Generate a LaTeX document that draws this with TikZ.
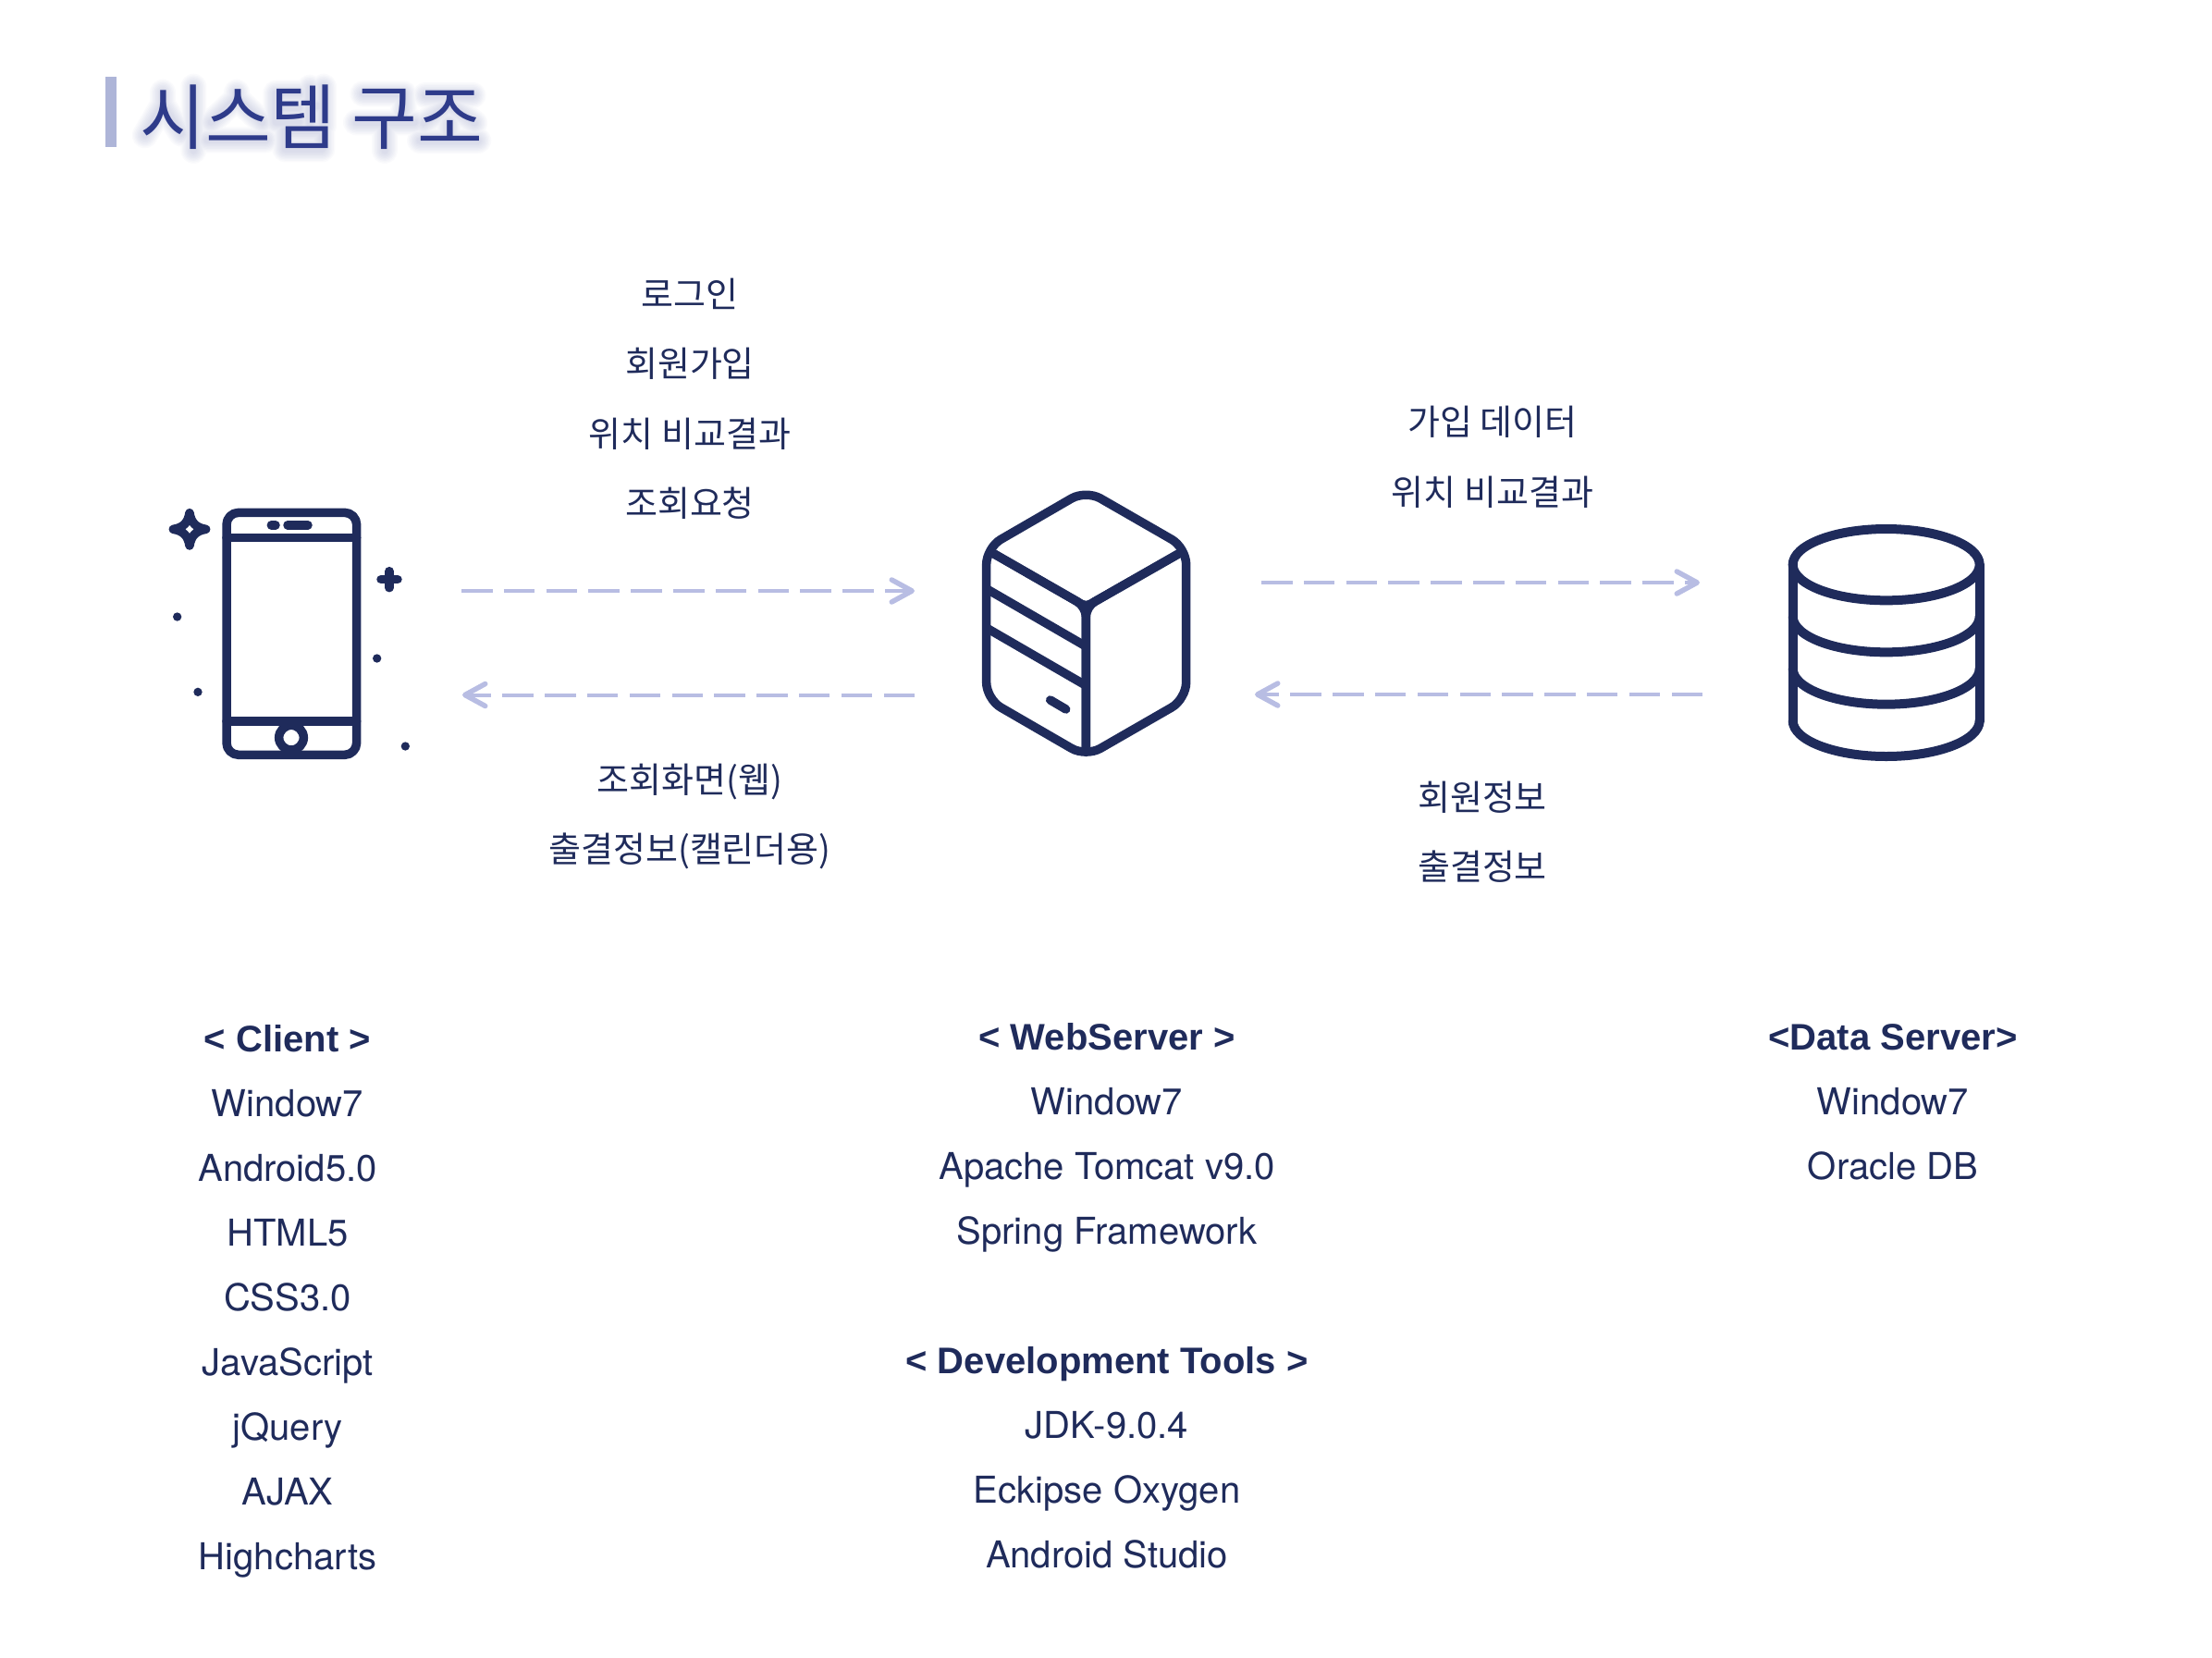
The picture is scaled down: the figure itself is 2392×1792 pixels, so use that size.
\documentclass[tikz,border=0pt]{standalone}
\usepackage{fontspec}
\setmainfont{TeX Gyre Heros}
\newfontfamily\headfont{Liberation Sans}
\newfontfamily\krfont{Noto Sans CJK KR}
\usetikzlibrary{arrows.meta}
\definecolor{navy}{HTML}{1F2B5B}
\definecolor{titleblue}{HTML}{2E3B8A}
\definecolor{barblue}{HTML}{AEB5D8}
\definecolor{flowblue}{HTML}{B8BDE3}
\tikzset{
  lat/.style={anchor=base,inner sep=0pt,text=navy,font=\fontsize{40}{48}\selectfont},
  latb/.style={lat,font=\fontsize{40}{48}\selectfont\headfont\bfseries},
  kor/.style={anchor=base,inner sep=0pt,text=navy,font=\fontsize{38}{44}\selectfont\krfont},
  flow/.style={draw=flowblue,line width=4pt,dash pattern=on 33.5pt off 12.3pt,
     -{Straight Barb[length=22pt,width=24pt,line width=5.5pt,round]}},
  icon/.style={draw=navy,line width=9.5pt,line cap=round,line join=round},
  ttl/.style={anchor=base west,inner sep=0pt,font=\fontsize{77}{90}\selectfont\krfont},
}
\begin{document}
\begin{tikzpicture}[x=1pt,y=-1pt]
\useasboundingbox (0,0) rectangle (2392,1792);
% title
\fill[barblue] (114,83) rectangle (126,159);
% soft glow under the title: the strokes of its letters, widened in steps
\begin{scope}[shift={(90,63)},x=0.33333pt,y=-0.33333pt]
\foreach \w in {28,25,...,7}{
\draw[draw=titleblue,draw opacity=0.022,line width=\w pt,line cap=round,line join=round]
  (258,110) -- (258,150) -- (200,250) (258,150) -- (318,245) (358,92) -- (358,300)
  (498,110) -- (498,130) -- (415,208) (498,130) -- (580,208) (402,265) -- (592,265)
  (700,113) -- (625,113) -- (625,207) -- (700,207) (625,160) -- (700,160)
  (735,95) -- (735,215) (780,92) -- (780,220) (735,155) -- (780,155)
  (655,235) rectangle (775,295)
  (907,115) -- (1040,115) -- (1040,160) -- (1030,205) (885,208) -- (1075,208) (978,208) -- (978,300)
  (1110,120) -- (1265,120) (1187,120) -- (1187,150) -- (1105,210) (1187,150) -- (1270,210)
  (1187,210) -- (1187,265) (1092,267) -- (1282,267);
}
\end{scope}
\node[ttl,text=titleblue] (title) at (151,155) {시스템 구조};
% phone
\begin{scope}[shift={(150,500)},x=0.33333pt,y=-0.33333pt]
\draw[icon,rounded corners=13pt] (285,163) rectangle (707,949);
\draw[icon] (285,245) -- (707,245) (285,840) -- (707,840);
\draw[icon] (430,203.5) -- (444,203.5) (483,203.5) -- (549,203.5);
\draw[icon,fill=white] (495,893) circle[radius=40];
\draw[icon] (813,353) -- (813,407) (786,380) -- (840,380);
\draw[icon] (165,164) .. controls (170,196) and (186,212) .. (218,217)
  .. controls (186,222) and (170,238) .. (165,270)
  .. controls (160,238) and (144,222) .. (112,217)
  .. controls (144,212) and (160,196) .. (165,164) -- cycle;
\fill[navy] (125,501) circle[radius=14] (773,636) circle[radius=14]
  (192,745) circle[radius=14] (865,921) circle[radius=14];
\end{scope}
% server
\begin{scope}[shift={(1040,510)},x=0.33333pt,y=-0.33333pt]
\draw[icon,rounded corners=18pt] (403,60) -- (728,247) -- (728,738) -- (403,925) -- (80,738) -- (80,247) -- cycle;
\draw[icon,rounded corners=5pt] (100,264) -- (403,438) -- (708,264);
\draw[icon,rounded corners=11pt] (100,264) -- (403,438) -- (403,910);
\draw[icon,rounded corners=11pt] (708,264) -- (403,438) -- (403,910);
\draw[icon] (80,380) -- (403,567) (80,507) -- (403,694);
\draw[icon] (287,741) -- (338,771);
\end{scope}
% database
\begin{scope}[shift={(1910,550)},x=0.33333pt,y=-0.33333pt]
\draw[icon,line width=10pt] (86,182) .. controls (86,118) and (222,66) .. (389,66)
  .. controls (556,66) and (692,118) .. (692,182)
  .. controls (692,246) and (556,298) .. (389,298)
  .. controls (222,298) and (86,246) .. (86,182) -- cycle;
\draw[icon,line width=10pt] (86,182) -- (86,690) (692,182) -- (692,690);
\foreach \y in {350,519,688}{
  \draw[icon,line width=10pt] (86,\y) .. controls (86,\y+64) and (222,\y+116) .. (389,\y+116)
  .. controls (556,\y+116) and (692,\y+64) .. (692,\y);
}
\end{scope}
% connectors
\coordinate (c1s) at (499,639);  \coordinate (c1e) at (989,639);
\coordinate (c2s) at (989,751.5);  \coordinate (c2e) at (500,751.5);
\coordinate (c3s) at (1364,630); \coordinate (c3e) at (1838,630);
\coordinate (c4s) at (1841,751); \coordinate (c4e) at (1357,751);
\draw[flow] (c1s) -- (c1e);
\draw[flow] (c2s) -- (c2e);
\draw[flow] (c3s) -- (c3e);
\draw[flow] (c4s) -- (c4e);
% flow labels
\node[kor] (k1) at (746,332) {로그인};
\node[kor] (k2) at (746,407) {회원가입};
\node[kor] (k3) at (746,483) {위치 비교결과};
\node[kor] (k4) at (746,558) {조회요청};
\node[kor] (k5) at (1614,470) {가입 데이터};
\node[kor] (k6) at (1614,546) {위치 비교결과};
\node[kor] (k7) at (746,857) {조회화면(웹)};
\node[kor] (k8) at (746,932) {출결정보(캘린더용)};
\node[kor] (k9) at (1603,876) {회원정보};
\node[kor] (k10) at (1603,951) {출결정보};
% columns
\node[latb] (h1) at (311,1137) {< Client >};
\node[lat] (a1) at (311,1207) {Window7};
\node[lat] (a2) at (311,1277) {Android5.0};
\node[lat] (a3) at (311,1347) {HTML5};
\node[lat] (a4) at (311,1417) {CSS3.0};
\node[lat] (a5) at (311,1487) {JavaScript};
\node[lat] (a6) at (311,1557) {jQuery};
\node[lat] (a7) at (311,1627) {AJAX};
\node[lat] (a8) at (311,1697) {Highcharts};
\node[latb] (h2) at (1197,1135) {< WebServer >};
\node[lat] (b1) at (1197,1205) {Window7};
\node[lat] (b2) at (1197,1275) {Apache Tomcat v9.0};
\node[lat] (b3) at (1197,1345) {Spring Framework};
\node[latb] (h3) at (1197,1485) {< Development Tools >};
\node[lat] (b4) at (1197,1555) {JDK-9.0.4};
\node[lat] (b5) at (1197,1625) {Eckipse Oxygen};
\node[lat] (b6) at (1197,1695) {Android Studio};
\node[latb] (h4) at (2047,1135) {<Data Server>};
\node[lat] (c1) at (2047,1205) {Window7};
\node[lat] (c2) at (2047,1275) {Oracle DB};
\end{tikzpicture}
\end{document}
